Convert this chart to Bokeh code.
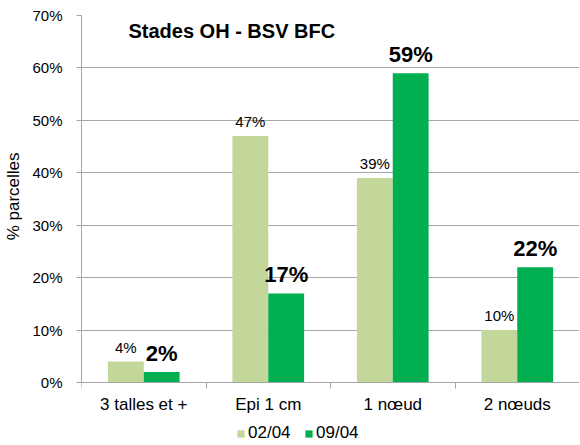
from bokeh.plotting import figure
from bokeh.models import (Range1d, FixedTicker, ColumnDataSource, Label, Legend,
                          LegendItem, NumeralTickFormatter)
from bokeh.core.properties import value
from bokeh.embed import file_html
from bokeh.resources import INLINE

categories = ["3 talles et +", "Epi 1 cm", "1 nœud", "2 nœuds"]
series_names = ["02/04", "09/04"]
v_0204 = [4, 47, 39, 10]
v_0904 = [2, 17, 59, 22]
y_ticks = [0, 10, 20, 30, 40, 50, 60, 70]

C1 = "#c4d79b"
C2 = "#00b050"
GRID = "#a6a6a6"
FONT = "Liberation Sans"

n = len(categories)
centers = [i + 0.5 for i in range(n)]
bw = 0.288
off = 0.144

p = figure(width=579, height=443, output_backend="svg", toolbar_location=None,
           x_range=Range1d(0, n), y_range=Range1d(-11.63, 70),
           min_border_left=81, min_border_right=0, min_border_top=15,
           min_border_bottom=0)
p.outline_line_color = None
p.background_fill_color = "white"

s1 = ColumnDataSource(dict(x=[c - off for c in centers], top=v_0204,
                           lab=[f"{v}%" for v in v_0204]))
s2 = ColumnDataSource(dict(x=[c + off for c in centers], top=v_0904,
                           lab=[f"{v}%" for v in v_0904]))

r1 = p.vbar(x="x", top="top", bottom=0, width=bw, source=s1, fill_color=C1, line_color=None)
r2 = p.vbar(x="x", top="top", bottom=0, width=bw, source=s2, fill_color=C2, line_color=None)

p.text(x="x", y="top", text="lab", source=s1, text_align="center",
       text_baseline="bottom", y_offset=-6, text_font=value(FONT),
       text_font_size="15px", text_color="black")
p.text(x="x", y="top", text="lab", source=s2, text_align="center",
       text_baseline="bottom", y_offset=-6, text_font=value(FONT),
       text_font_size="22px", text_font_style="bold", text_color="black")

# grid
p.xgrid.grid_line_color = None
p.ygrid.grid_line_color = GRID
p.ygrid.grid_line_width = 1
p.ygrid.ticker = FixedTicker(ticks=y_ticks)

# y axis
p.yaxis.ticker = FixedTicker(ticks=y_ticks)
p.yaxis.bounds = (0, 70)
p.yaxis.formatter = NumeralTickFormatter(format="0")
p.yaxis.major_label_overrides = {t: f"{t}%" for t in y_ticks}
p.yaxis.axis_line_color = GRID
p.yaxis.major_tick_line_color = GRID
p.yaxis.major_tick_out = 5
p.yaxis.major_tick_in = 0
p.yaxis.minor_tick_line_color = None
p.yaxis.major_label_standoff = 14
p.yaxis.major_label_text_font = FONT
p.yaxis.major_label_text_font_size = "15px"
p.yaxis.major_label_text_color = "black"
# leading no-break spaces lift the label so it is centred on the 0-70% span
p.yaxis.axis_label = "\u00a0" * 14 + "% parcelles"
p.yaxis.axis_label_text_font = FONT
p.yaxis.axis_label_text_font_size = "17px"
p.yaxis.axis_label_text_font_style = "normal"
p.yaxis.axis_label_text_color = "black"
p.yaxis.axis_label_standoff = 6

# x axis, placed at y = 0 inside the frame
p.xaxis.fixed_location = 0
p.xaxis.ticker = FixedTicker(ticks=centers, minor_ticks=list(range(n + 1)))
p.xaxis.major_label_overrides = {c: categories[i] for i, c in enumerate(centers)}
p.xaxis.axis_line_color = GRID
p.xaxis.major_tick_line_color = None
p.xaxis.minor_tick_line_color = GRID
p.xaxis.minor_tick_out = 6
p.xaxis.minor_tick_in = 0
p.xaxis.major_label_standoff = 6
p.xaxis.major_label_text_font = FONT
p.xaxis.major_label_text_font_size = "17px"
p.xaxis.major_label_text_color = "black"

# title inside plot
p.add_layout(Label(x=0.377, y=67.1, text="Stades OH - BSV BFC", text_font=FONT,
                   text_font_size="20px", text_font_style="bold",
                   text_baseline="middle", text_align="left", text_color="black"))

legend = Legend(items=[LegendItem(label=series_names[0], renderers=[r1]),
                       LegendItem(label=series_names[1], renderers=[r2])],
                orientation="horizontal", location=(155, 0),
                border_line_color=None, background_fill_alpha=0,
                glyph_width=9, glyph_height=9, label_standoff=3, spacing=12,
                label_width=44, padding=0, margin=0,
                label_text_font=FONT, label_text_font_size="17px",
                label_text_color="black", label_height=16)
p.add_layout(legend, "center")

open("out.html", "w").write(file_html(p, INLINE))
